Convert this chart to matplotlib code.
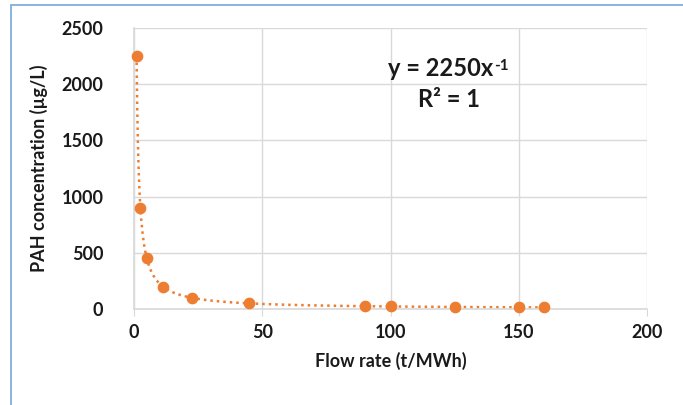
import numpy as np
import matplotlib.pyplot as plt
from matplotlib.patches import Rectangle

# data
flow_rate = [1, 2.5, 5, 11.25, 22.5, 45, 90, 100, 125, 150, 160]
pah_conc = [2250, 900, 450, 200, 100, 50, 25, 22.5, 18, 15, 14]
x_ticks = [0, 50, 100, 150, 200]
y_ticks = [0, 500, 1000, 1500, 2000, 2500]

orange = '#ED7D31'
grid_c = '#D9D9D9'
txt_c = '#1a1a1a'

plt.rcParams['font.family'] = ['Lato', 'DejaVu Sans']

fig = plt.figure(figsize=(6.83, 4.05), dpi=100)
fig.patches.append(Rectangle((11 / 683, -0.1), 1.2, 1 - 5 / 405 + 0.1,
                             transform=fig.transFigure, fill=False,
                             edgecolor='#7FAEE0', lw=1.3))
ax = fig.add_axes([134 / 683, 1 - 309 / 405, (647 - 134) / 683, (309 - 28) / 405])

# power trendline fitted in log space
b, log_a = np.polyfit(np.log(flow_rate), np.log(pah_conc), 1)
xs = np.linspace(min(flow_rate), max(flow_rate), 600)
ax.plot(xs, np.exp(log_a) * xs ** b, ls=(0, (1, 1.6)), color=orange, lw=1.8, zorder=2)
ax.scatter(flow_rate, pah_conc, s=55, color=orange, zorder=3, clip_on=False)

ax.set_xlim(0, 200)
ax.set_ylim(0, 2500)
ax.set_xticks(x_ticks)
ax.set_yticks(y_ticks)
ax.grid(True, color=grid_c, lw=1)
ax.set_axisbelow(True)
for s in ['top', 'right']:
    ax.spines[s].set_visible(False)
for s in ['left', 'bottom']:
    ax.spines[s].set_color(grid_c)
    ax.spines[s].set_linewidth(1.2)
ax.tick_params(axis='x', length=5, color=grid_c, labelsize=13, pad=6)
ax.tick_params(axis='y', length=0, labelsize=13, pad=22)
for lbl in ax.get_xticklabels() + ax.get_yticklabels():
    lbl.set_fontweight('bold')
    lbl.set_color(txt_c)

ax.set_xlabel('Flow rate (t/MWh)', fontsize=13, fontweight='bold', color=txt_c, labelpad=8)
ax.set_ylabel('PAH concentration (µg/L)', fontsize=13, fontweight='bold', color=txt_c, labelpad=10)

eq = ax.text(0.598, 0.855, 'y = 2250x', transform=ax.transAxes, ha='center',
             va='center', fontsize=17, fontweight='bold', color=txt_c)
ax.annotate('-1', xy=(1, 1), xycoords=eq, xytext=(0.5, -1), textcoords='offset points',
            ha='left', va='top', fontsize=11, fontweight='bold', color=txt_c)
ax.text(0.615, 0.745, 'R² = 1', transform=ax.transAxes, ha='center', va='center',
        fontsize=17, fontweight='bold', color=txt_c)

fig.savefig('out.png', dpi=100)
